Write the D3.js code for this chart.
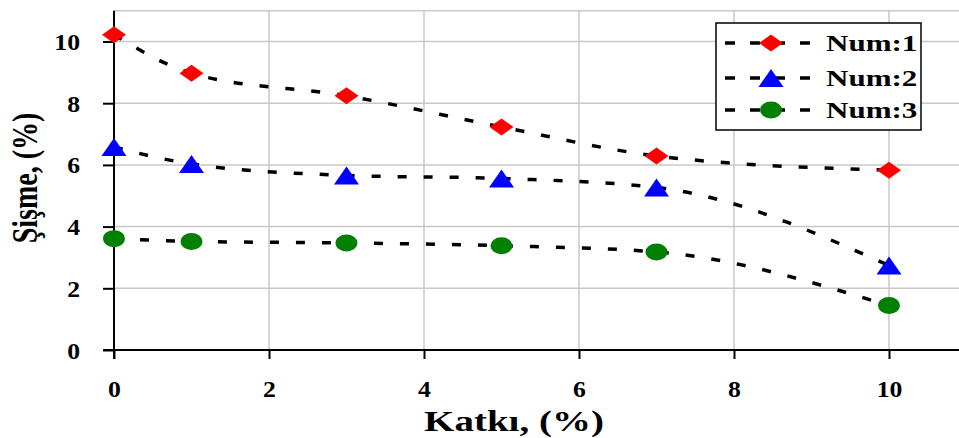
<!DOCTYPE html>
<html><head><meta charset="utf-8">
<script src="https://cdn.jsdelivr.net/npm/d3@7"></script>
<style>body{margin:0;background:#fff}svg{display:block}text{font-family:"Liberation Serif","Times New Roman",serif;font-weight:bold;fill:#000}</style>
</head><body>
<script>
const xValues = [0, 1, 3, 5, 7, 10];
const num1 = [10.22, 8.97, 8.24, 7.23, 6.29, 5.83];
const num2 = [6.58, 6.03, 5.66, 5.56, 5.27, 2.74];
const num3 = [3.61, 3.52, 3.47, 3.38, 3.18, 1.44];
const seriesNames = ["Num:1", "Num:2", "Num:3"];
const xTicks = [0, 2, 4, 6, 8, 10];
const yTicks = [0, 2, 4, 6, 8, 10];
const xTitle = "Katkı, (%)";
const yTitle = "Şişme, (%)";

const W = 959, H = 438;
const svg = d3.select("body").append("svg").attr("width", W).attr("height", H);
const x = d3.scaleLinear().domain([0, 11]).range([114, 114 + 77.5 * 11]);
const y = d3.scaleLinear().domain([0, 11]).range([350, 350 - 11 * 30.85]);

// grid
const grid = svg.append("g").attr("stroke", "#c8c8c8").attr("stroke-width", 1.5);
grid.selectAll(".gx").data(xTicks.filter(d => d > 0)).join("line")
  .attr("x1", d => x(d)).attr("x2", d => x(d)).attr("y1", y(11)).attr("y2", y(0));
grid.selectAll(".gy").data(yTicks.filter(d => d > 0).concat([11])).join("line")
  .attr("x1", x(0)).attr("x2", W).attr("y1", d => y(d)).attr("y2", d => y(d));

// axes
const ax = svg.append("g").attr("transform", `translate(0,${y(0)})`)
  .call(d3.axisBottom(x).tickValues(xTicks).tickSize(9).tickSizeOuter(0).tickFormat(d3.format("d")));
ax.select(".domain").attr("stroke", "#000").attr("stroke-width", 2).attr("d", `M${x(0)-11},0H${W}`);
ax.selectAll(".tick line").attr("stroke", "#000").attr("stroke-width", 2);
ax.selectAll(".tick text").attr("y", 0).attr("dy", 0).attr("transform", "translate(0,47) scale(1.12,1)")
  .style("font-size", "23px").style("font-family", "Liberation Serif").style("font-weight", "bold");

const ay = svg.append("g").attr("transform", `translate(${x(0)},0)`)
  .call(d3.axisLeft(y).tickValues(yTicks).tickSize(11).tickSizeOuter(0).tickFormat(d3.format("d")));
ay.select(".domain").attr("stroke", "#000").attr("stroke-width", 2).attr("d", `M0,${y(11)}V${y(0)+9}`);
ay.selectAll(".tick line").attr("stroke", "#000").attr("stroke-width", 2);
ay.selectAll(".tick text").attr("x", 0).attr("dy", "0.35em").attr("transform", "translate(-34,0) scale(1.12,1)")
  .style("font-size", "23px").style("font-family", "Liberation Serif").style("font-weight", "bold");

// titles
svg.append("text").attr("transform", "translate(514,431) scale(1.3,1)").attr("text-anchor", "middle")
  .style("font-size", "30px").text(xTitle);
svg.append("text").attr("transform", "translate(37,178) scale(1.25,1) rotate(-90)").attr("text-anchor", "middle")
  .style("font-size", "28px").text(yTitle);

// series
const series = [
  {name: seriesNames[0], vals: num1, color: "#ff0000", shape: "diamond"},
  {name: seriesNames[1], vals: num2, color: "#0000ff", shape: "triangle"},
  {name: seriesNames[2], vals: num3, color: "#008000", shape: "circle"}
];
const line = d3.line().x(d => x(d[0])).y(d => y(d[1])).curve(d3.curveMonotoneX);
function marker(g, shape, color) {
  if (shape === "diamond") g.append("path").attr("d", "M0,-8.5L12,0L0,8.5L-12,0Z").attr("fill", color);
  else if (shape === "triangle") g.append("path").attr("d", "M0,-9L12.5,9L-12.5,9Z").attr("fill", color);
  else g.append("ellipse").attr("rx", 11).attr("ry", 8.5).attr("fill", color);
}
series.forEach(s => {
  const pts = xValues.map((xv, i) => [xv, s.vals[i]]);
  svg.append("path").attr("d", line(pts)).attr("fill", "none").attr("stroke", "#000")
    .attr("stroke-width", 3.5).attr("stroke-dasharray", "9,17");
});
series.forEach(s => {
  xValues.forEach((xv, i) => {
    const g = svg.append("g").attr("transform", `translate(${x(xv)},${y(s.vals[i])})`);
    marker(g, s.shape, s.color);
  });
});

// legend
const lg = svg.append("g");
lg.append("rect").attr("x", 716).attr("y", 23).attr("width", 205).attr("height", 107)
  .attr("fill", "#fff").attr("stroke", "#000").attr("stroke-width", 1.5);
const ly = [43, 78, 110];
series.forEach((s, i) => {
  lg.append("line").attr("x1", 725).attr("x2", 817).attr("y1", ly[i]).attr("y2", ly[i])
    .attr("stroke", "#000").attr("stroke-width", 3.5).attr("stroke-dasharray", "10,15");
  const g = lg.append("g").attr("transform", `translate(771,${ly[i]})`);
  marker(g, s.shape, s.color);
  lg.append("text").attr("transform", `translate(826,${ly[i] + 8}) scale(1.35,1)`)
    .style("font-size", "23px").text(s.name);
});
</script>
</body></html>
